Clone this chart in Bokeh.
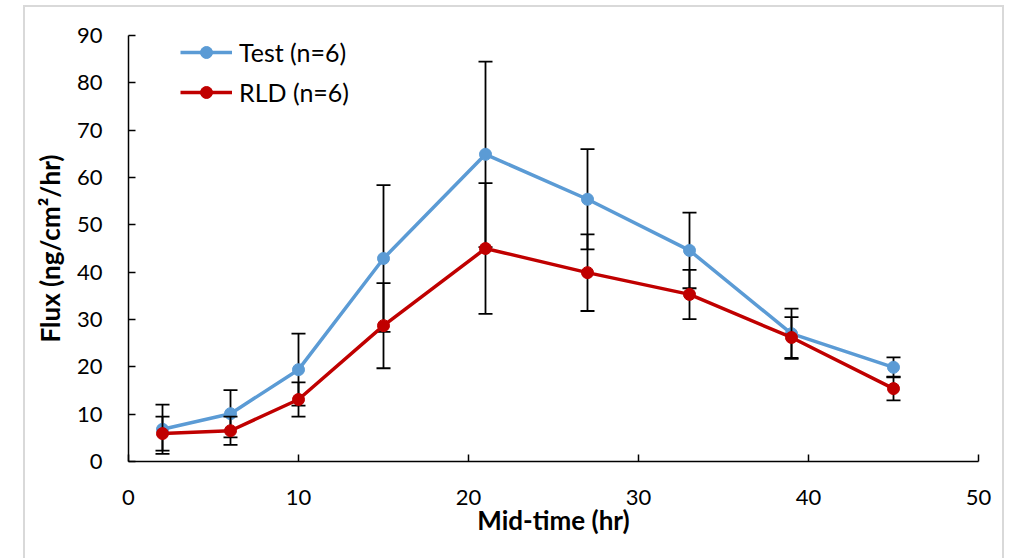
from bokeh.plotting import figure
from bokeh.models import Range1d, Legend, LegendItem, ColumnDataSource
from bokeh.embed import file_html
from bokeh.resources import INLINE

# ---- data ----
time = [2, 6, 10, 15, 21, 27, 33, 39, 45]
test_mean = [6.8, 10.1, 19.4, 42.9, 64.9, 55.4, 44.6, 27.0, 19.9]
test_sd = [5.2, 5.0, 7.6, 15.5, 19.6, 10.6, 8.0, 5.3, 2.1]
rld_mean = [5.9, 6.5, 13.1, 28.7, 45.0, 39.9, 35.3, 26.2, 15.4]
rld_sd = [3.6, 3.0, 3.6, 9.0, 13.8, 8.1, 5.2, 4.3, 2.5]
x_ticks = [0, 10, 20, 30, 40, 50]
y_ticks = [0, 10, 20, 30, 40, 50, 60, 70, 80, 90]
series_names = ["Test (n=6)", "RLD (n=6)"]
colors = ["#5B9BD5", "#C00000"]

FONT = "Lato"

# host placed at page (23, 5); light grey chart-area border drawn by CSS
p = figure(width=981, height=553, output_backend="svg", toolbar_location=None,
           x_range=Range1d(0, 50), y_range=Range1d(0, 90),
           min_border_left=103, min_border_right=28, min_border_top=28, min_border_bottom=99)
p.styles = {"margin-left": "23px", "margin-top": "5px",
            "border": "2px solid #d9d9d9", "border-bottom": "none"}
p.grid.visible = False
p.outline_line_color = None
p.background_fill_color = "white"
p.border_fill_color = "white"

for ax in (p.xaxis[0], p.yaxis[0]):
    ax.axis_line_color = "black"
    ax.axis_line_width = 1.5
    ax.major_tick_line_color = "black"
    ax.major_tick_line_width = 1.5
    ax.major_tick_in = 7
    ax.major_tick_out = 0
    ax.minor_tick_line_color = None
    ax.major_label_text_font = FONT
    ax.major_label_text_font_size = "22px"
    ax.major_label_text_color = "black"
    ax.axis_label_text_font = FONT
    ax.axis_label_text_font_style = "bold"
    ax.axis_label_text_font_size = "26px"
    ax.axis_label_text_color = "black"

p.xaxis.ticker = x_ticks
p.yaxis.ticker = y_ticks
p.xaxis.major_label_standoff = 28
p.yaxis.major_label_standoff = 26
p.xaxis.axis_label = "Mid-time (hr)"
p.yaxis.axis_label = "Flux (ng/cm²/hr)"
p.xaxis.axis_label_standoff = -4
p.yaxis.axis_label_standoff = 8

items = []
for name, color, mean, sd in [(series_names[0], colors[0], test_mean, test_sd),
                              (series_names[1], colors[1], rld_mean, rld_sd)]:
    src = ColumnDataSource(dict(x=time, y=mean,
                                lo=[m - s for m, s in zip(mean, sd)],
                                hi=[m + s for m, s in zip(mean, sd)]))
    p.segment(x0="x", y0="lo", x1="x", y1="hi", source=src, line_color="black", line_width=1.8)
    p.scatter(x="x", y="hi", source=src, marker="dash", size=14, line_color="black", line_width=1.8)
    p.scatter(x="x", y="lo", source=src, marker="dash", size=14, line_color="black", line_width=1.8)
    r_line = p.line(x="x", y="y", source=src, line_color=color, line_width=3.5)
    r_pts = p.scatter(x="x", y="y", source=src, marker="circle", size=12,
                      fill_color=color, line_color=color)
    items.append(LegendItem(label=name, renderers=[r_line, r_pts]))

legend = Legend(items=items, location=(52, 354), orientation="vertical",
                border_line_color=None, background_fill_alpha=0,
                label_text_font=FONT, label_text_font_size="25px", label_text_color="black",
                glyph_width=52, glyph_height=30, spacing=10, padding=8, margin=0,
                label_standoff=7)
p.add_layout(legend, "center")

open("out.html", "w").write(file_html(p, INLINE))
